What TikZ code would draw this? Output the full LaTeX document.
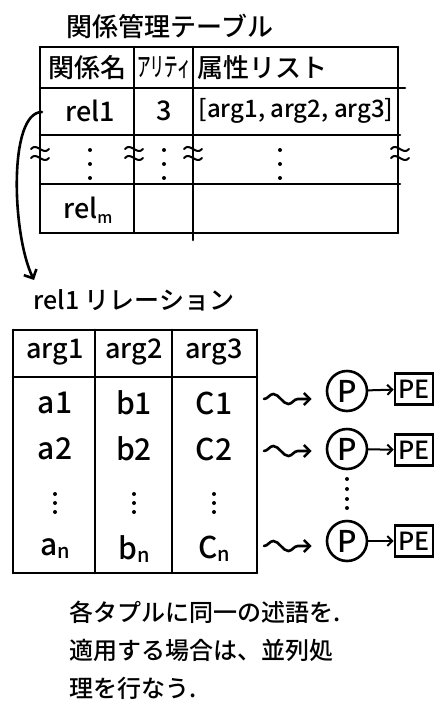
\documentclass[tikz,border=0pt]{standalone}
\usepackage{fontspec}
\setmainfont{Noto Sans CJK JP}[BoldFont={Noto Sans CJK JP Medium}]
\usepackage{graphicx}
\usetikzlibrary{arrows.meta,positioning,decorations.pathmorphing}

\begin{document}
\bfseries
\begin{tikzpicture}[x=1pt,y=-1pt,line width=2.6pt,line cap=round,
    txt/.style={inner sep=0pt,font=\fontsize{26}{30}\selectfont},
    cell/.style={inner sep=0pt,font=\fontsize{27}{30}\selectfont},
    val/.style={inner sep=0pt,font=\fontsize{30}{32}\selectfont},
    note/.style={inner sep=0pt,anchor=west,font=\fontsize{24}{28}\selectfont},
    proc/.style={circle,draw,minimum size=40pt,inner sep=0pt,
      font=\fontsize{30}{30}\selectfont},
    pebox/.style={draw,minimum width=38pt,minimum height=31pt,inner sep=1pt,
      font=\fontsize{25}{25}\selectfont},
    squig/.style={-{Straight Barb[length=6pt]},decorate,
      decoration={snake,amplitude=5pt,segment length=30pt,post length=6pt}},
    brk/.style={line width=2pt},
    dot/.style={circle,fill,inner sep=0pt,minimum size=4pt}]
  \useasboundingbox (0,0) rectangle (443,702);

  % relation management table
  \node[txt] (title) at (170,26) {関係管理テーブル};
  \draw (40,47) -- (398,47);
  \draw (40,88) -- (405,88);
  \draw (40,135) -- (400,135);
  \draw (40,184) -- (400,184);
  \draw (40,233) -- (398,233);
  \foreach \cx in {40,134,398}
    \draw (\cx,47) -- (\cx,233);
  \draw (193,47) -- (193,240);
  \foreach \bx in {40,134,193,400} {
    \draw[brk] (\bx-9,149) .. controls (\bx-3,142) and (\bx+3,156) .. (\bx+9,149);
    \draw[brk] (\bx-9,158) .. controls (\bx-3,151) and (\bx+3,165) .. (\bx+9,158);
  }
  \foreach \dx in {90,164,280}
    \foreach \dy in {150,164,178}
      \node[dot] at (\dx,\dy) {};

  \node[txt] (hname) at (87,68) {関係名};
  \node[txt] (harity) at (164,68) {\scalebox{0.52}[1]{アリティ}};
  \node[txt] (hattr) at (262,68) {属性リスト};
  \node[cell] (rel1) at (90,111) {rel1};
  \node[cell] (arity1) at (164,111) {3};
  \node[cell,font=\fontsize{24}{28}\selectfont] (attr1) at (296,111) {[arg1, arg2, arg3]};
  \node[cell] (relm) at (88,210) {rel\raisebox{-5pt}{\fontsize{16}{16}\selectfont m}};

  \coordinate (into) at (34,280);
  \draw[-{Straight Barb[length=7pt]}] ([xshift=-22pt,yshift=-1pt]rel1.west)
    .. controls (8,112) and (12,235) .. (into);

  % rel1 relation
  \node[txt,font=\fontsize{25}{30}\selectfont] (reltitle) at (134,300) {rel1 リレーション};
  \draw (13,330) -- (257,330);
  \draw (13,377) -- (257,377);
  \draw (13,573) -- (257,573);
  \foreach \cx in {13,95,172,257}
    \draw (\cx,330) -- (\cx,573);

  \node[cell] (arg1) at (55,352) {arg1};
  \node[cell] (arg2) at (134,352) {arg2};
  \node[cell] (arg3) at (214,352) {arg3};

  \node[val] (a1) at (55,403) {a1};
  \node[val] (b1) at (134,403) {b1};
  \node[val] (c1) at (214,403) {C1};
  \node[val] (a2) at (55,449) {a2};
  \node[val] (b2) at (134,449) {b2};
  \node[val] (c2) at (214,449) {C2};
  \node[val] (an) at (55,549) {a\raisebox{-3pt}{\fontsize{20}{20}\selectfont n}};
  \node[val] (bn) at (134,549) {b\raisebox{-3pt}{\fontsize{20}{20}\selectfont n}};
  \node[val] (cn) at (214,549) {C\raisebox{-3pt}{\fontsize{20}{20}\selectfont n}};
  \foreach \dx in {55,134,214}
    \foreach \dy in {494,503,512}
      \node[dot] at (\dx,\dy) {};

  % one predicate per tuple
  \node[proc] (p1) at (347,391) {P};
  \node[proc] (p2) at (347,449) {P};
  \node[proc] (pn) at (347,541) {P};
  \node[pebox] (pe1) at (414,389) {PE};
  \node[pebox] (pe2) at (414,450) {PE};
  \node[pebox] (pen) at (414,541) {PE};
  \foreach \dy in {479,489,499,508}
    \node[dot] at (347,\dy) {};

  \coordinate (w1) at (264,399);
  \coordinate (w2) at (264,451);
  \coordinate (wn) at (264,546);
  \draw[squig] (w1) -- ([xshift=-14pt]p1.west |- w1);
  \draw[squig] (w2) -- ([xshift=-14pt]p2.west |- w2);
  \draw[squig] (wn) -- ([xshift=-14pt]pn.west |- wn);
  \foreach \pp/\ee in {p1/pe1,p2/pe2,pn/pen}
    \draw[-{Straight Barb[length=5pt]},line width=2pt] (\pp) -- (\ee);

  \node[note] (n1) at (68,612) {各タプルに同一の述語を.};
  \node[note] (n2) at (68,650) {適用する場合は、並列処};
  \node[note] (n3) at (68,688) {理を行なう.};
\end{tikzpicture}
\end{document}
